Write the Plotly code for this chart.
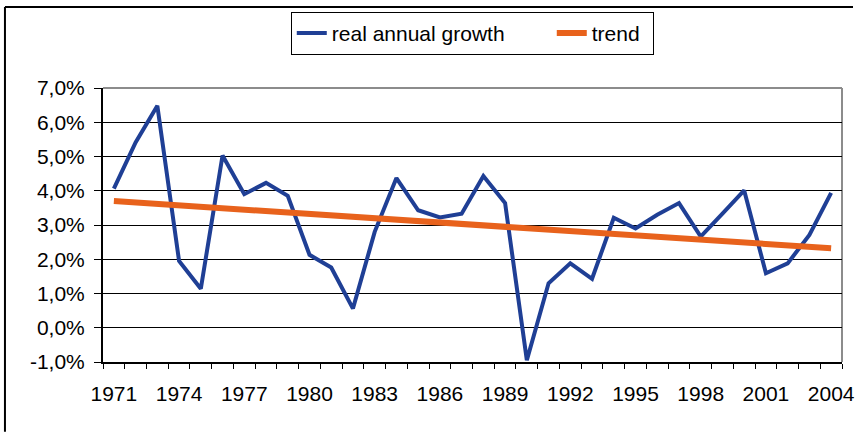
import plotly.graph_objects as go

years = list(range(1971, 2005))
growth = [4.06, 5.41, 6.48, 1.95, 1.14, 5.03, 3.90, 4.23, 3.85, 2.13,
          1.76, 0.56, 2.80, 4.37, 3.43, 3.22, 3.33, 4.43, 3.64, -0.95,
          1.30, 1.88, 1.43, 3.21, 2.90, 3.30, 3.64, 2.66, 3.33, 4.01,
          1.59, 1.88, 2.71, 3.94]
trend_years = [1971, 2004]
trend_values = [3.70, 2.32]

x_tick_years = list(range(1971, 2005, 3))
x_tick_labels = [str(y) for y in x_tick_years]
y_tick_vals = [-1, 0, 1, 2, 3, 4, 5, 6, 7]
y_tick_labels = ["-1,0%", "0,0%", "1,0%", "2,0%", "3,0%", "4,0%", "5,0%", "6,0%", "7,0%"]

FONT = "Liberation Sans, Arial, sans-serif"
FS = 21

fig = go.Figure()
fig.add_trace(go.Scatter(x=years, y=growth, mode="lines", name="real annual growth",
                         line=dict(color="#1F3F95", width=4), cliponaxis=False,
                         legendwidth=215))
fig.add_trace(go.Scatter(x=trend_years, y=trend_values, mode="lines", name="trend",
                         line=dict(color="#E8621C", width=6), legendwidth=56))

W, H = 857, 432
L, R, T, B = 103, 15.3, 85.7, 70.3
pw, ph = W - L - R, H - T - B

def px(x):
    return (x - L) / pw

def py(y):
    return (H - B - y) / ph

fig.update_layout(
    template="none",
    width=W, height=H,
    margin=dict(l=L, r=R, t=T, b=B, pad=0),
    paper_bgcolor="white", plot_bgcolor="white",
    font=dict(family=FONT, size=FS, color="black"),
    showlegend=True,
    legend=dict(orientation="h", x=px(290.7), y=py(9), xanchor="left", yanchor="top",
                bordercolor="black", borderwidth=1, bgcolor="white",
                font=dict(family=FONT, size=FS, color="black"),
                itemwidth=30, tracegroupgap=0),
    xaxis=dict(range=[1970.5, 2004.5], tickmode="array", tickvals=x_tick_years,
               ticktext=x_tick_labels, ticks="", showgrid=False, zeroline=False,
               showline=True, linecolor="black", linewidth=2, automargin=False,
               ticklabelstandoff=12, ticklabeloverflow="allow",
               minor=dict(tickmode="linear", tick0=1970.5, dtick=1, ticks="outside",
                          ticklen=5, tickcolor="black", tickwidth=1, showgrid=False)),
    yaxis=dict(range=[-1, 7], tickmode="array", tickvals=y_tick_vals, ticktext=y_tick_labels,
               ticks="outside", ticklen=7, tickcolor="black", tickwidth=1, automargin=False,
               showgrid=True, gridcolor="black", gridwidth=1, zeroline=False,
               showline=True, linecolor="black", linewidth=2, ticklabelstandoff=5),
    shapes=[
        dict(type="line", xref="paper", yref="paper", x0=0, x1=1, y0=1, y1=1,
             line=dict(color="#8C8C8C", width=2), layer="between"),
        dict(type="line", xref="paper", yref="paper", x0=1, x1=1, y0=0, y1=1,
             line=dict(color="#8C8C8C", width=2), layer="between"),
        dict(type="line", xref="paper", yref="paper", x0=px(5), x1=px(852.7), y0=py(4), y1=py(4),
             line=dict(color="black", width=2)),
        dict(type="line", xref="paper", yref="paper", x0=px(5), x1=px(5), y0=py(4), y1=py(432),
             line=dict(color="black", width=2)),
    ],
)

fig.write_html("out.html", config={"displayModeBar": False},
               post_script="document.body.style.margin='0';document.body.style.overflow='hidden';")
